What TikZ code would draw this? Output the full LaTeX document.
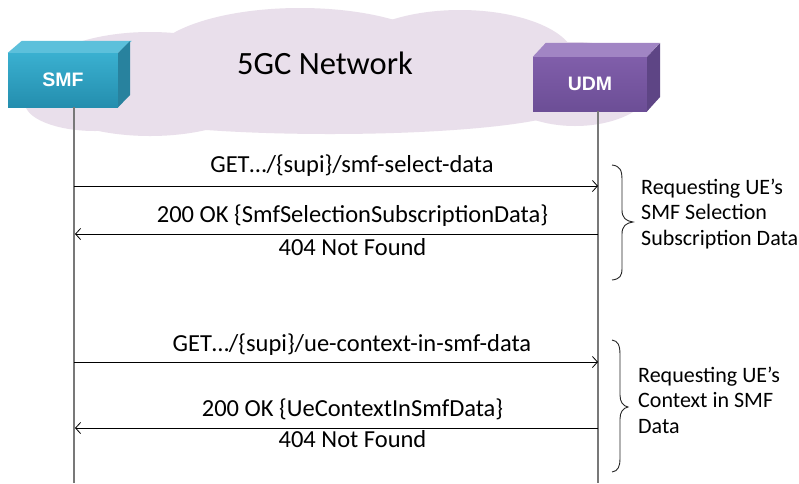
\documentclass[tikz,border=0pt]{standalone}
\usepackage{fontspec}
\setmainfont{Carlito}
\newfontfamily\arialfont{Liberation Sans}
\usetikzlibrary{arrows.meta,calc}
\definecolor{cloudc}{RGB}{233,223,235}
\definecolor{smffront1}{RGB}{58,176,208}
\definecolor{smffront2}{RGB}{36,142,174}
\definecolor{smftop}{RGB}{92,192,219}
\definecolor{smfside}{RGB}{40,130,158}
\definecolor{udmfront1}{RGB}{128,94,170}
\definecolor{udmfront2}{RGB}{108,78,150}
\definecolor{udmtop}{RGB}{161,133,196}
\definecolor{udmside}{RGB}{94,69,133}
\definecolor{lifec}{RGB}{120,120,120}
\tikzset{
  nfbox/.style={minimum width=#1, minimum height=54pt, inner sep=0pt, font=\arialfont\bfseries\fontsize{19.5}{22}\selectfont, text=white},
  life/.style={draw=lifec, line width=1.3pt},
  msg/.style={draw=black, line width=0.8pt, -{Straight Barb[length=5pt,width=11pt,line width=0.8pt]}},
  msgtext/.style={font=\fontsize{24.5}{28}\selectfont, anchor=base, inner sep=0pt},
  bracec/.style={draw=black!85, line width=0.9pt},
  notetext/.style={font=\fontsize{22}{25.5}\selectfont, align=left, anchor=west, inner sep=0pt}
}
\begin{document}
\begin{tikzpicture}[x=1pt,y=-1pt]
\useasboundingbox (0,0) rectangle (799,483);
\fill[white] (0,0) rectangle (799,483);
% cloud
\begin{scope}
\fill[cloudc] (150,84) ellipse [x radius=120pt, y radius=52pt];
\fill[cloudc] (300,62) ellipse [x radius=150pt, y radius=54pt];
\fill[cloudc] (460,60) ellipse [x radius=115pt, y radius=50pt];
\fill[cloudc] (575,84) ellipse [x radius=78pt, y radius=42pt];
\fill[cloudc] (330,106) ellipse [x radius=240pt, y radius=28pt];
\fill[cloudc] (95,103) ellipse [x radius=70pt, y radius=28pt];
\end{scope}
\node[font=\fontsize{32.5}{36}\selectfont] (net) at (325,63) {5GC Network};
% SMF box
\node[nfbox=110pt, top color=smffront1, bottom color=smffront2] (smf) at (63,80) {SMF};
\fill[smftop] (smf.north west) -- ++(14,-12) -- ++(110,0) -- (smf.north east) -- cycle;
\fill[smfside] (smf.north east) -- ++(12,-12) -- ++(0,54) -- (smf.south east) -- cycle;
% UDM box
\node[nfbox=114pt, top color=udmfront1, bottom color=udmfront2] (udm) at (590,84) {UDM};
\fill[udmtop] (udm.north west) -- ++(13,-14) -- ++(114,0) -- (udm.north east) -- cycle;
\fill[udmside] (udm.north east) -- ++(13,-14) -- ++(0,54) -- (udm.south east) -- cycle;
% lifelines
\coordinate (smfl) at (74,107);
\coordinate (smfb) at (74,483);
\coordinate (udml) at (598,111);
\coordinate (udmb) at (598,483);
\draw[life] (smfl) -- (smfb);
\draw[life] (udml) -- (udmb);
% messages
\coordinate (m1a) at (74,186);  \coordinate (m1b) at (598,186);
\coordinate (m2a) at (598,234); \coordinate (m2b) at (75,234);
\coordinate (m3a) at (74,362);  \coordinate (m3b) at (598,362);
\coordinate (m4a) at (598,428); \coordinate (m4b) at (75,428);
\draw[msg] (m1a) -- node[msgtext, xshift=16pt, yshift=14pt] (t1) {GET…/\{supi\}/smf-select-data} (m1b);
\draw[msg] (m2a) -- node[msgtext, xshift=16pt, yshift=11.5pt] (t2) {200 OK \{SmfSelectionSubscriptionData\}}
                    node[msgtext, xshift=16pt, yshift=-21pt] (t2b) {404 Not Found} (m2b);
\draw[msg] (m3a) -- node[msgtext, xshift=16pt, yshift=11pt] (t3) {GET…/\{supi\}/ue-context-in-smf-data} (m3b);
\draw[msg] (m4a) -- node[msgtext, xshift=16pt, yshift=12pt] (t4) {200 OK \{UeContextInSmfData\}}
                    node[msgtext, xshift=16pt, yshift=-19pt] (t4b) {404 Not Found} (m4b);
% braces
\draw[bracec] (612,165) .. controls (620,166) and (622,170) .. (622,180)
  -- (622,210) .. controls (622,218) and (626,221) .. (633,222)
  .. controls (626,223) and (622,226) .. (622,234)
  -- (622,268) .. controls (622,276) and (620,279) .. (612,280);
\draw[bracec] (612,340) .. controls (618,341) and (620,345) .. (620,355)
  -- (620,395) .. controls (620,402) and (623,406) .. (628,407)
  .. controls (623,408) and (620,412) .. (620,419)
  -- (620,458) .. controls (620,467) and (618,471) .. (612,472);
\node[notetext] (n1) at (641,214) {Requesting UE’s\\SMF Selection\\Subscription Data};
\node[notetext] (n2) at (638,400) {Requesting UE’s\\Context in SMF\\Data};
\end{tikzpicture}
\end{document}
